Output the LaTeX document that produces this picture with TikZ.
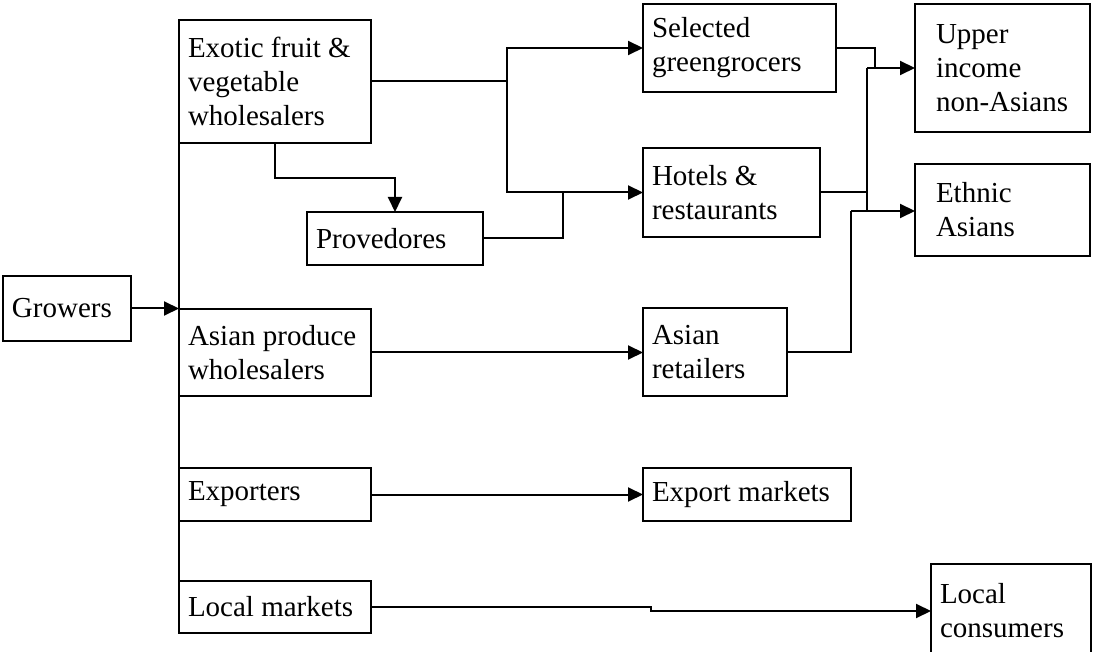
\documentclass[tikz,border=0pt]{standalone}
\usepackage{fontspec}
\setmainfont{Liberation Serif}
\usetikzlibrary{calc}
\usetikzlibrary{arrows, arrows.meta}

\begin{document}
\begin{tikzpicture}[x=1pt, y=-1pt, line width=2pt,
	box/.style={draw, rectangle, inner xsep=9pt, inner ysep=0pt, outer sep=0pt,
		align=flush left, anchor=north west, font=\fontsize{29}{34}\selectfont},
	arr/.style={-{Triangle[length=15pt, width=14pt]}}]
	\useasboundingbox (0,0) rectangle (1093,652);

	%left column
	\node[box, text width=110pt, minimum height=65pt] (growers) at (3,276) {Growers};
	\node[box, text width=174pt, minimum height=123pt] (exotic) at (179,20) {Exotic fruit \&\\vegetable\\wholesalers};
	\node[box, text width=158pt, minimum height=53pt] (provedores) at (307,212) {Provedores};
	\node[box, text width=174pt, minimum height=87pt] (asianwh) at (179,309) {Asian produce\\wholesalers};
	\node[box, text width=174pt, minimum height=53pt] (exporters) at (179,468) {Exporters};
	\node[box, text width=174pt, minimum height=52pt] (localmk) at (179,581) {Local markets};

	%middle column
	\node[box, text width=175pt, minimum height=88pt] (greengr) at (643,4) {Selected\\greengrocers};
	\node[box, text width=159pt, minimum height=89pt] (hotels) at (643,148) {Hotels \&\\restaurants};
	\node[box, text width=126pt, minimum height=88pt] (asianret) at (643,308) {Asian\\retailers};
	\node[box, text width=190pt, minimum height=53pt] (exportmk) at (643,468) {Export markets};

	%right column
	\node[box, inner xsep=21pt, text width=133pt, minimum height=128pt] (upper) at (915,4) {Upper\\income\\non-Asians};
	\node[box, inner xsep=21pt, text width=133pt, minimum height=92pt] (ethnic) at (915,164) {Ethnic\\Asians};
	\node[box, text width=142pt, minimum height=94pt] (localcons) at (931,564) {Local\\consumers};

	%turning points
	\coordinate (exobus) at (507,81.5);		%split after exotic wholesalers
	\coordinate (provjoin) at (563,192.5);	%provedores joins hotels line
	\coordinate (ggturn) at (875,68);		%greengrocers turn down
	\coordinate (upbus) at (867,68);		%top of right bus
	\coordinate (ethbus) at (867,211);		%bottom of right bus
	\coordinate (retturn) at (851,211);	%retailers turn to ethnic
	\coordinate (localjog) at (651,607);	%small step on local line

	%trunk and growers
	\draw (exotic.south west) -- (localmk.north west);
	\draw[arr] (growers.east) -- (growers.east -| exotic.west);

	%exotic wholesalers
	\draw[arr] (exotic.south) -- ++(0,35) -| (provedores.north);
	\draw (exotic.east) -- (exobus);
	\draw[arr] (exobus) |- (greengr.west);
	\draw[arr] (exobus) |- (hotels.west);
	\draw (provedores.east) -| (provjoin);

	%to consumers
	\draw (greengr.east) -| (ggturn);
	\draw[arr] (upbus) -- (upbus -| upper.west);
	\draw (upbus) -- (ethbus);
	\draw (hotels.east) -- (hotels.east -| upbus);
	\draw (asianret.east) -| (retturn);
	\draw[arr] (retturn) -- (retturn -| ethnic.west);

	%straight lines
	\draw[arr] (asianwh.east) -- (asianwh.east -| asianret.west);
	\draw[arr] (exporters.east) -- (exporters.east -| exportmk.west);
	\draw[arr] (localmk.east) -- (localjog) |- (localcons.west);
\end{tikzpicture}
\end{document}
